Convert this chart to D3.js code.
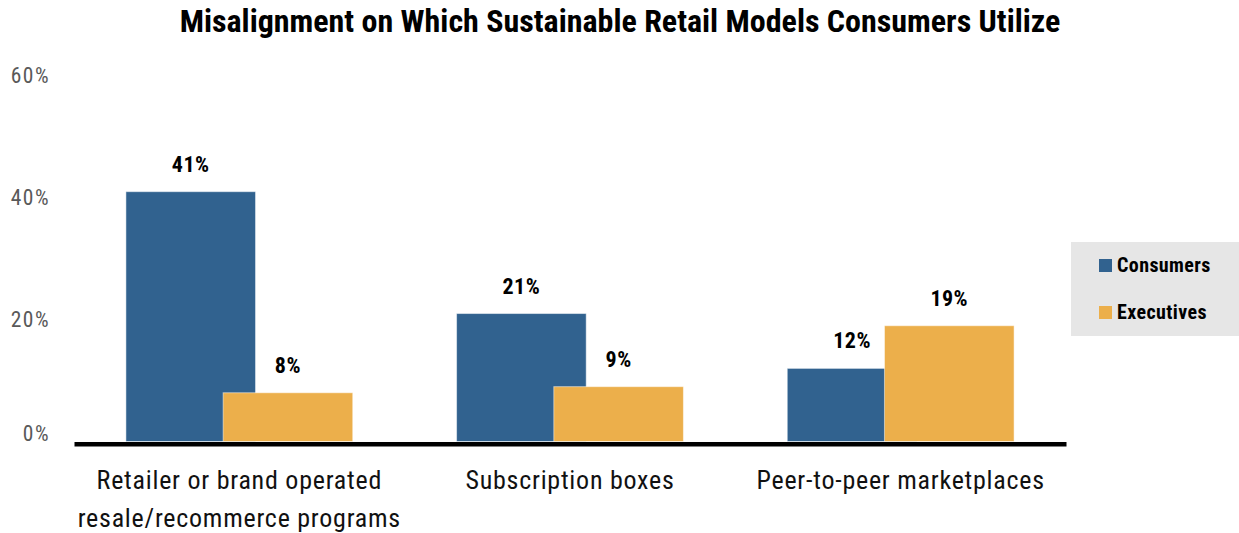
<!DOCTYPE html>
<html><head><meta charset="utf-8">
<script src="https://cdn.jsdelivr.net/npm/d3@7"></script>
<style>
body{margin:0;background:#fff;}
svg{display:block;font-family:"Roboto Condensed",Roboto,sans-serif;}
</style></head>
<body>
<svg id="chart" width="1239" height="533"></svg>
<script>
const title = "Misalignment on Which Sustainable Retail Models Consumers Utilize";
const categories = ["Retailer or brand operated resale/recommerce programs", "Subscription boxes", "Peer-to-peer marketplaces"];
const categoryLines = [["Retailer or brand operated", "resale/recommerce programs"], ["Subscription boxes"], ["Peer-to-peer marketplaces"]];
const seriesNames = ["Consumers", "Executives"];
const consumers = [41, 21, 12];
const executives = [8, 9, 19];
const yTicks = [0, 20, 40, 60];
const colors = ["#31628F", "#ECAF4B"];

const svg = d3.select("#chart");

const x = d3.scaleBand().domain(categories).range([74, 1066]).paddingInner(0).paddingOuter(0);
const y = d3.scaleLinear().domain([0, 60]).range([441.5, 75.9]);

const bw = x.bandwidth();
const barW = bw * 0.392;
const sub = d3.scaleOrdinal().domain(seriesNames).range([bw*0.157, bw*0.451]);

// title
svg.append("text").attr("x", 620).attr("y", 32).attr("text-anchor","middle")
  .attr("font-size", 32).attr("font-weight", 700).attr("fill","#000").text(title);

// y axis
const yAxis = svg.append("g").attr("transform","translate(50,0)")
  .call(d3.axisLeft(y).tickValues(yTicks).tickSize(0).tickPadding(0).tickFormat(d => d + "%"));
yAxis.select(".domain").remove();
yAxis.selectAll("text").attr("font-size", 21.5).attr("fill","#595959")
  .attr("font-family","'Roboto Condensed',Roboto,sans-serif")
  .attr("letter-spacing", "1.5px")
  .attr("dy", d => d === 0 ? "-0.05em" : "0.3em");

// bars
const data = categories.map((c,i) => ({c, vals:[{s:seriesNames[0], v:consumers[i]},{s:seriesNames[1], v:executives[i]}]}));
const g = svg.append("g");
seriesNames.forEach((s, si) => {
  g.selectAll(null).data(data).enter().append("rect")
    .attr("x", d => x(d.c) + sub(s))
    .attr("width", barW)
    .attr("y", d => y(d.vals[si].v))
    .attr("height", d => y(0) - y(d.vals[si].v))
    .attr("fill", colors[si])
    .attr("stroke", "#ffffff").attr("stroke-opacity", 0.5).attr("stroke-width", 1);
});
seriesNames.forEach((s, si) => {
  g.selectAll(null).data(data).enter().append("text")
    .attr("x", d => x(d.c) + sub(s) + barW/2)
    .attr("y", d => y(d.vals[si].v) - 20)
    .attr("text-anchor","middle").attr("font-size", 22).attr("font-weight", 700).attr("fill","#000")
    .attr("letter-spacing", "0.5px")
    .text(d => d.vals[si].v + "%");
});

// x axis
const xAxis = svg.append("g").attr("transform","translate(0,443.7)")
  .call(d3.axisBottom(x).tickSize(0).tickFormat(""));
xAxis.select(".domain").attr("stroke","#000").attr("stroke-width", 4.5);

categories.forEach((c, i) => {
  categoryLines[i].forEach((line, li) => {
    svg.append("text").attr("x", x(c) + bw/2).attr("y", 489 + li*38)
      .attr("text-anchor","middle").attr("font-size", 26).attr("fill","#111")
      .attr("letter-spacing", "0.75px")
      .text(line);
  });
});

// legend
const lg = svg.append("g");
lg.append("rect").attr("x", 1071).attr("y", 242).attr("width", 168).attr("height", 94).attr("fill", "#E6E6E6");
seriesNames.forEach((s, i) => {
  lg.append("rect").attr("x", 1099).attr("y", 259 + i*47).attr("width", 13).attr("height", 13).attr("fill", colors[i]);
  lg.append("text").attr("x", 1117).attr("y", 272 + i*47).attr("font-size", 20).attr("font-weight", 700)
    .attr("letter-spacing", "0.4px").attr("fill","#000").text(s);
});
</script>
</body></html>
